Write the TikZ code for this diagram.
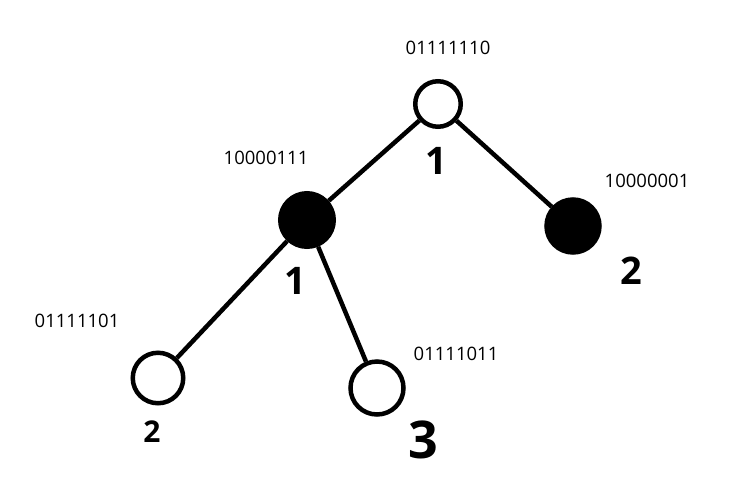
\documentclass[tikz,border=0pt]{standalone}
\usepackage{fontspec}
\setmainfont{Open Sans}
\usepackage{tikz}
\usetikzlibrary{positioning}

\begin{document}
\begin{tikzpicture}[x=1pt, y=-1pt,
    white/.style={draw, circle, line width=4.5pt, fill=white, inner sep=0pt},
    black/.style={draw, circle, line width=4.5pt, fill=black, inner sep=0pt},
    code/.style={font=\fontsize{18.5}{21}\selectfont, text=black},
    weight/.style={font=\fontsize{38}{40}\selectfont\bfseries}]
      \useasboundingbox (0, 0) rectangle (746, 483);

      \node[white, minimum size=45.5pt] (n0) at (438, 104) {};
      \node[black, minimum size=53.5pt] (n1) at (307, 220) {};
      \node[black, minimum size=53pt] (n2) at (573, 226) {};
      \node[white, minimum size=50.5pt] (n3) at (158, 378) {};
      \node[white, minimum size=53pt] (n4) at (377, 388) {};

      \draw[line width=4.5pt] (n0) -- (n1);
      \draw[line width=4.5pt] (n0) -- (n2);
      \draw[line width=4.5pt] (n1) -- (n3);
      \draw[line width=4.5pt] (n1) -- (n4);

      \node[code] (c0) at (448, 48) {01111110};
      \node[code] (c1) at (266, 158) {10000111};
      \node[code] (c2) at (647, 181) {10000001};
      \node[code] (c3) at (77, 321) {01111101};
      \node[code] (c4) at (456, 354) {01111011};

      \node[weight] (w0) at (436, 161) {1};
      \node[weight] (w1) at (295, 281) {1};
      \node[weight] (w2) at (631, 271) {2};
      \node[weight, font=\fontsize{30}{32}\selectfont\bfseries] (w3) at (152, 432) {2};
      \node[weight, font=\fontsize{52}{54}\selectfont\bfseries] (w4) at (423, 440) {3};
\end{tikzpicture}
\end{document}
